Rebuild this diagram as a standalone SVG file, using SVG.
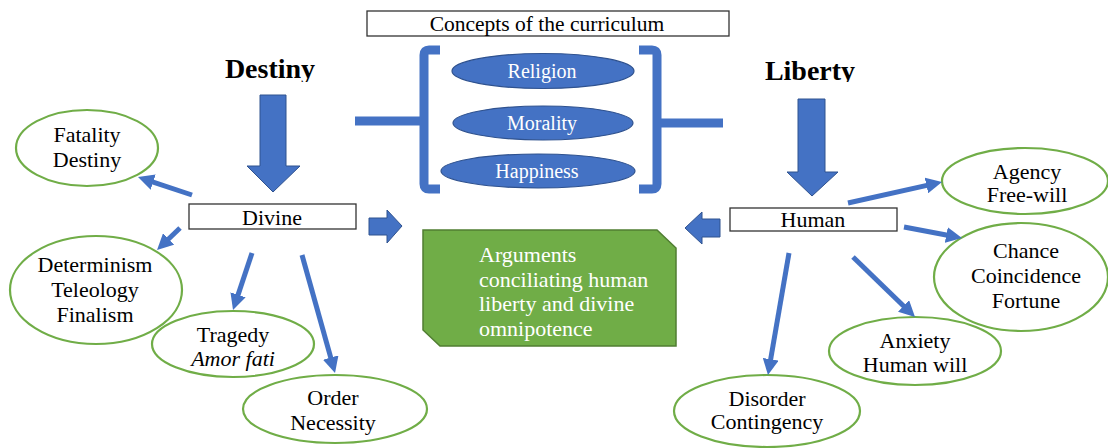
<svg xmlns="http://www.w3.org/2000/svg" width="1108" height="448" viewBox="0 0 1108 448">
<style>
text{font-family:"Liberation Serif","Times New Roman",serif;fill:#000;}
.t{font-size:22px;text-anchor:middle;}
.w{fill:#fff;}
.head{font-size:28px;font-weight:bold;text-anchor:middle;}
.oval{fill:#fff;stroke:#70AD47;stroke-width:2.2;}
.concept{fill:#4472C4;stroke:#2F528F;stroke-width:1.2;}
.box{fill:#fff;stroke:#333;stroke-width:1.3;}
.block{fill:#4472C4;stroke:#2F528F;stroke-width:1;}
.con{stroke:#4472C4;stroke-width:5;fill:none;marker-end:url(#ah);}
.br{stroke:#4472C4;stroke-width:9;fill:none;stroke-linejoin:round;}
</style>
<defs>
<marker id="ah" markerUnits="userSpaceOnUse" markerWidth="16" markerHeight="16" refX="4" refY="8" orient="auto">
<path d="M0,0 L16,8 L0,16 z" fill="#4472C4"/>
</marker>
<clipPath id="clipTop"><rect x="0" y="0" width="1108" height="82"/></clipPath>
</defs>
<rect width="1108" height="448" fill="#fff"/>

<g id="title">
<rect x="367" y="11" width="362" height="25" class="box" stroke="#000"/>
<text x="547" y="31" style="font-size:21.5px;text-anchor:middle">Concepts of the curriculum</text>
</g>

<g id="brackets">
<path class="br" d="M440,50 L429,50 Q424,50 424,55 L424,184 Q424,189 429,189 L440,189"/>
<path class="br" d="M355,121 L424,121" stroke-width="11"/>
<path class="br" d="M639,50 L652,50 Q657,50 657,55 L657,184 Q657,189 652,189 L639,189"/>
<path class="br" d="M657,123 L723,123" stroke-width="11"/>
</g>

<g id="religion">
<ellipse cx="543" cy="71" rx="91" ry="17.5" class="concept"/>
<text x="542" y="78" class="t w" style="font-size:20px">Religion</text>
</g>
<g id="morality">
<ellipse cx="543" cy="123" rx="90" ry="17" class="concept"/>
<text x="542" y="130" class="t w" style="font-size:20px">Morality</text>
</g>
<g id="happiness">
<ellipse cx="538" cy="171" rx="97" ry="17" class="concept"/>
<text x="537" y="178" class="t w" style="font-size:20px">Happiness</text>
</g>

<g id="destiny">
<text x="270" y="78" class="head" clip-path="url(#clipTop)">Destiny</text>
<polygon class="block" points="260,95 286,95 286,166 300,166 273,192 247,166 260,166"/>
</g>
<g id="liberty">
<text x="810" y="80" class="head" clip-path="url(#clipTop)">Liberty</text>
<polygon class="block" points="798,99 825,99 825,172 838,172 812,196 787,172 798,172"/>
</g>

<g id="divine">
<rect x="189" y="204" width="167" height="25" class="box"/>
<text x="272" y="225" class="t">Divine</text>
</g>
<g id="human">
<rect x="730" y="208" width="167" height="23" class="box"/>
<text x="813" y="227" class="t">Human</text>
</g>

<g id="arguments">
<polygon points="423,230 657,230 676,248 676,346 440,346 423,330" fill="#70AD47" stroke="#507E32" stroke-width="1.5"/>
<text x="479" y="262" class="w" style="font-size:22px">Arguments</text>
<text x="479" y="287" class="w" style="font-size:22px">conciliating human</text>
<text x="479" y="311" class="w" style="font-size:22px">liberty and divine</text>
<text x="479" y="336" class="w" style="font-size:22px">omnipotence</text>
</g>

<g id="fatality">
<ellipse cx="87" cy="148" rx="71" ry="38" class="oval"/>
<text x="87" y="142" class="t">Fatality</text>
<text x="87" y="167" class="t">Destiny</text>
</g>
<g id="determinism">
<ellipse cx="96" cy="290" rx="86" ry="54" class="oval"/>
<text x="95" y="272" class="t">Determinism</text>
<text x="95" y="297" class="t">Teleology</text>
<text x="95" y="322" class="t">Finalism</text>
</g>
<g id="tragedy">
<ellipse cx="233" cy="344" rx="81" ry="33" class="oval"/>
<text x="233" y="342" class="t">Tragedy</text>
<text x="233" y="366" class="t" font-style="italic">Amor fati</text>
</g>
<g id="order">
<ellipse cx="335" cy="409" rx="92" ry="34" class="oval"/>
<text x="333" y="405" class="t">Order</text>
<text x="333" y="430" class="t">Necessity</text>
</g>
<g id="agency">
<ellipse cx="1025" cy="181" rx="83" ry="33" class="oval"/>
<text x="1027" y="179" class="t">Agency</text>
<text x="1027" y="202" class="t">Free-will</text>
</g>
<g id="chance">
<ellipse cx="1021" cy="277" rx="87" ry="54" class="oval"/>
<text x="1026" y="258" class="t">Chance</text>
<text x="1026" y="283" class="t">Coincidence</text>
<text x="1026" y="308" class="t">Fortune</text>
</g>
<g id="anxiety">
<ellipse cx="915" cy="351" rx="86" ry="34" class="oval"/>
<text x="915" y="348" class="t">Anxiety</text>
<text x="915" y="372" class="t">Human will</text>
</g>
<g id="disorder">
<ellipse cx="767" cy="411" rx="93" ry="36" class="oval"/>
<text x="767" y="406" class="t">Disorder</text>
<text x="767" y="429" class="t">Contingency</text>
</g>

<g id="connectors">
<line class="con" x1="192" y1="195" x2="149.4" y2="180.8"/>
<line class="con" x1="180" y1="228" x2="165.7" y2="241.7"/>
<line class="con" x1="252" y1="253" x2="236.8" y2="298.6"/>
<line class="con" x1="302" y1="255" x2="331.8" y2="361.4"/>
<line class="con" x1="848" y1="203" x2="930.3" y2="184.6"/>
<line class="con" x1="904" y1="227" x2="950.2" y2="235.8"/>
<line class="con" x1="853" y1="257" x2="906.4" y2="308.7"/>
<line class="con" x1="789" y1="253" x2="770" y2="363.2"/>
<polygon class="block" points="369,218 387,218 387,210 402,226 387,243 387,235 369,235"/>
<polygon class="block" points="720,219 702,219 702,212 685,228 702,244 702,237 720,237"/>
</g>
</svg>
